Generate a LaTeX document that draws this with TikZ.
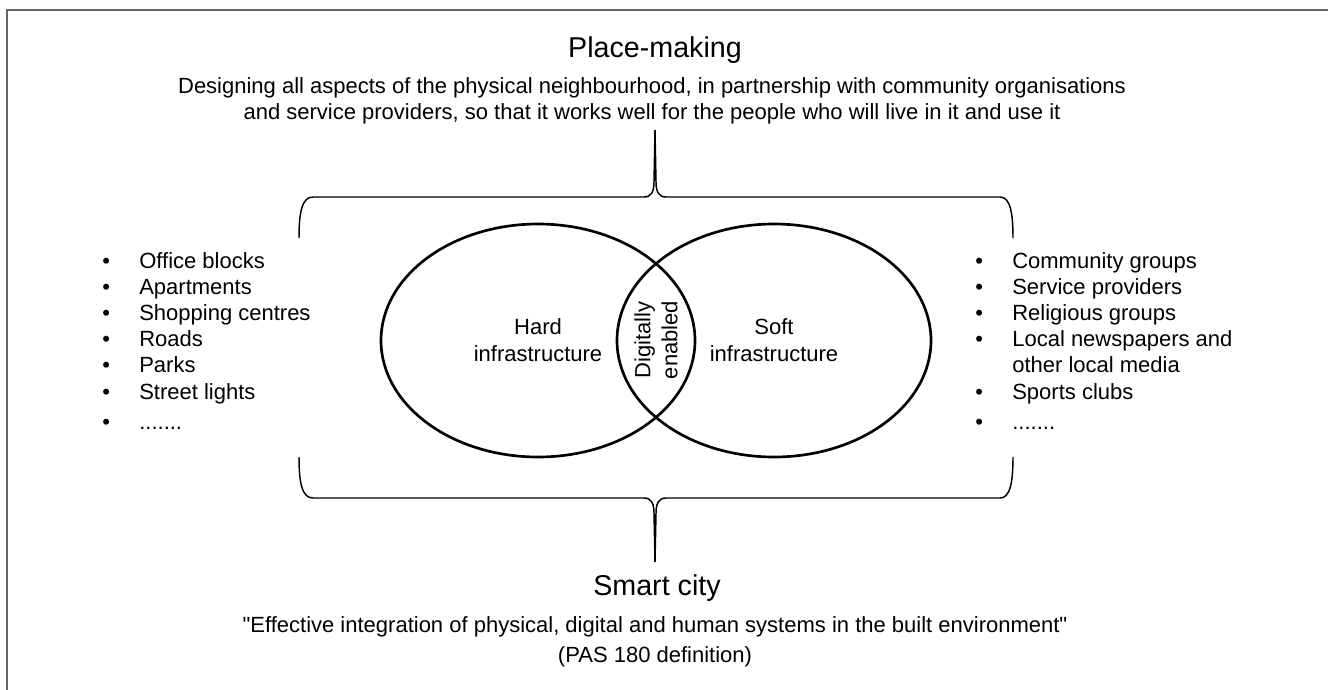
\documentclass[tikz,border=0pt]{standalone}
\usepackage{fontspec}
\setmainfont{Liberation Sans}
\usetikzlibrary{shapes.geometric}

\begin{document}
\begin{tikzpicture}[x=0.75pt,y=-0.75pt,
   venn/.style={ellipse,draw,line width=2pt,inner sep=0pt,
     minimum width=235.5pt,minimum height=174.75pt,align=center,
     font=\fontsize{16.5}{20.25}\selectfont},
   brace/.style={line width=1.1pt,line join=round},
   head/.style={font=\fontsize{21.5}{26}\selectfont},
   txt/.style={align=center,font=\fontsize{16.5}{19.5}\selectfont},
   lst/.style={anchor=base west,inner sep=0pt,font=\fontsize{16.5}{19.65}\selectfont}]
\useasboundingbox (0,0) rectangle (1328,689);
% outer frame (runs off at the right and the bottom)
\draw[black!60,line width=1.1pt] (1340,10) -- (7,10) -- (7,700);

% place-making on top
\node[head] (pm) at (655,50) {Place-making};
\node[txt] (pmdef) at (652,100.5) {Designing all aspects of the physical neighbourhood, in partnership with community organisations\\
  and service providers, so that it works well for the people who will live in it and use it};

% the two circles
\node[venn] (hard) at (538,340.5) {Hard\\infrastructure};
\node[venn] (soft) at (774,340.5) {Soft\\infrastructure};
\node[rotate=90,align=center,inner sep=0pt,font=\fontsize{16.5}{20.25}\selectfont] (dig) at (656,340) {Digitally\\enabled};

% lists
\node[lst] (hardlist) at (102,268) {\begin{tabular}[t]{@{}l@{\hspace{22pt}}l@{}}
  \textbullet & Office blocks\\
  \textbullet & Apartments\\
  \textbullet & Shopping centres\\
  \textbullet & Roads\\
  \textbullet & Parks\\
  \textbullet & Street lights\\[3pt]
  \textbullet & .......
\end{tabular}};
\node[lst] (softlist) at (975,268) {\begin{tabular}[t]{@{}l@{\hspace{22pt}}l@{}}
  \textbullet & Community groups\\
  \textbullet & Service providers\\
  \textbullet & Religious groups\\
  \textbullet & Local newspapers and\\
              & other local media\\
  \textbullet & Sports clubs\\[3pt]
  \textbullet & .......
\end{tabular}};

% upper brace
\coordinate (ttip) at (655,130);
\draw[brace] (299,238) .. controls (299,212) and (302,197) .. (313,197) -- (644,197)
   .. controls (651,197) and (654,192) .. (654,182) -- (ttip);
\draw[brace] (ttip) -- (656,182) .. controls (656,192) and (659,197) .. (666,197)
   -- (1000,197) .. controls (1010,197) and (1013,212) .. (1013,238);

% lower brace
\coordinate (btip) at (655,562);
\draw[brace] (299,457) .. controls (299,483) and (302,498) .. (313,498) -- (644,498)
   .. controls (651,498) and (654,503) .. (654,513) -- (btip);
\draw[brace] (btip) -- (656,513) .. controls (656,503) and (659,498) .. (666,498)
   -- (1000,498) .. controls (1010,498) and (1013,483) .. (1013,457);

% smart city below
\node[head] (sc) at (657,588) {Smart city};
\node[txt,font=\fontsize{16.5}{22.5}\selectfont] (scdef) at (655,642) {\textquotedbl Effective integration of physical, digital and human systems in the built environment\textquotedbl\\
  (PAS 180 definition)};
\end{tikzpicture}
\end{document}
